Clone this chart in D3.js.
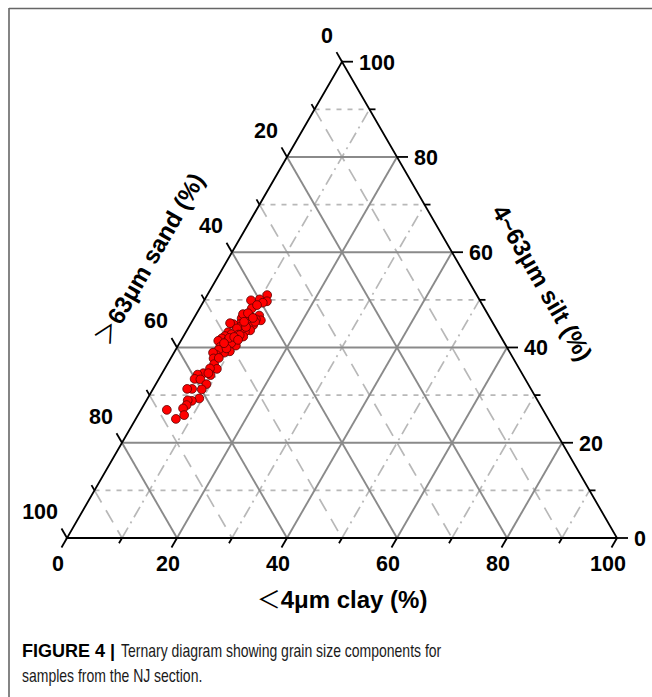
<!DOCTYPE html>
<html>
<head>
<meta charset="utf-8">
<script src="https://cdn.jsdelivr.net/npm/d3@7"></script>
<style>
  html, body { margin: 0; padding: 0; background: #fff; }
  svg { display: block; }
</style>
</head>
<body>
<svg id="chart" width="652" height="697"></svg>
<script>
// Grain size composition of NJ section samples (percent)
const sand = [38.1,39.9,38.8,41.6,39.7,42.3,41.7,41.9,42.7,43.3,44.4,45.2,44.5,44.8,46.1,46.5,47.3,47.8,43.8,44.9,
  46.0,47.1,46.8,49.1,48.7,47.5,50.1,50.9,51.8,49.9,48.9,47.3,50.7,49.1,51.6,52.1,49.7,50.8,52.0,52.7,
  53.6,54.0,51.1,54.5,55.0,55.0,56.2,56.8,57.9,57.0,59.1,60.1,59.1,58.5,59.9,61.6,62.5,61.3,62.9,63.6,
  64.3,65.3,68.4,65.8,67.7,43.5,43.1,49.5,48.5,45.3,48.1,45.1,51.0,53.5,41.0,43.1];
const silt = [51.0,50.1,49.7,49.9,49.4,48.2,46.7,45.7,45.9,46.4,46.5,46.1,47.0,45.0,44.9,44.3,44.9,45.1,44.7,43.6,
  43.3,44.0,42.3,43.2,42.8,42.7,42.4,41.9,41.4,41.6,41.6,42.6,40.5,40.4,40.2,40.1,40.9,39.2,38.9,39.5,
  38.4,38.9,39.8,37.7,36.5,35.5,35.6,34.2,34.6,34.6,34.3,33.4,33.3,32.3,31.2,31.3,31.3,29.3,28.8,28.9,
  27.9,27.2,26.9,25.8,25.0,47.2,45.4,42.0,42.2,44.3,41.6,45.4,40.9,37.8,48.9,46.2];
const clay = [10.9,10.0,11.5,8.5,10.9,9.5,11.6,12.4,11.4,10.3,9.1,8.7,8.5,10.2,9.0,9.2,7.8,7.1,11.5,11.5,
  10.7,8.9,10.9,7.7,8.5,9.8,7.5,7.2,6.8,8.5,9.5,10.1,8.8,10.5,8.2,7.8,9.4,10.0,9.1,7.8,
  8.0,7.1,9.1,7.8,8.5,9.5,8.2,9.0,7.5,8.4,6.6,6.5,7.6,9.2,8.9,7.1,6.2,9.4,8.3,7.5,
  7.8,7.5,4.7,8.4,7.3,9.3,11.5,8.5,9.3,10.4,10.3,9.5,8.1,8.7,10.1,10.7];

const majorTicks = [0, 20, 40, 60, 80, 100];
const minorTicks = [10, 30, 50, 70, 90];
const gridMajor = [20, 40, 60, 80];

const axisTitles = { clay: "4μm clay (%)", silt: "4~63μm silt (%)", sand: "63μm sand (%)" };
const figureLabel = "FIGURE 4 |";
const caption = ["Ternary diagram showing grain size components for", "samples from the NJ section."];

const svg = d3.select("#chart");
const x0 = 67, yBase = 538, side = 550;
const h = side * Math.sqrt(3) / 2;

// percent -> length along the base and height of the triangle
const along = d3.scaleLinear().domain([0, 100]).range([0, side]);
const up = d3.scaleLinear().domain([0, 100]).range([0, h]);

// ternary (clay, silt) -> screen point; sand is the remainder
const pt = (c, s) => [x0 + along(c) + along(s) / 2, yBase - up(s)];

// frame lines
svg.append("line").attr("x1", 9).attr("y1", 8.5).attr("x2", 652).attr("y2", 8.5)
  .attr("stroke", "#666").attr("stroke-width", 1.6);
svg.append("line").attr("x1", 9).attr("y1", 8).attr("x2", 9).attr("y2", 697)
  .attr("stroke", "#666").attr("stroke-width", 1.6);

const grid = svg.append("g").attr("fill", "none");
const seg = (a, b) => grid.append("line")
  .attr("x1", a[0]).attr("y1", a[1]).attr("x2", b[0]).attr("y2", b[1]);

// minor grid
minorTicks.forEach(v => {
  // constant silt: horizontal, short dashes
  seg(pt(0, v), pt(100 - v, v)).attr("stroke", "#b8b8b8").attr("stroke-width", 1.7)
    .attr("stroke-dasharray", "5,6");
  // constant clay: parallel to left edge, dash-dot
  seg(pt(v, 0), pt(v, 100 - v)).attr("stroke", "#b8b8b8").attr("stroke-width", 1.7)
    .attr("stroke-dasharray", "12,5,2,5");
  // constant sand: parallel to right edge, long dashes
  seg(pt(0, 100 - v), pt(100 - v, 0)).attr("stroke", "#b8b8b8").attr("stroke-width", 1.7)
    .attr("stroke-dasharray", "14,9");
});

// major grid
gridMajor.forEach(v => {
  seg(pt(0, v), pt(100 - v, v)).attr("stroke", "#8a8a8a").attr("stroke-width", 1.9);
  seg(pt(v, 0), pt(v, 100 - v)).attr("stroke", "#8a8a8a").attr("stroke-width", 1.9);
  seg(pt(0, 100 - v), pt(100 - v, 0)).attr("stroke", "#8a8a8a").attr("stroke-width", 1.9);
});

// triangle outline
const ax = svg.append("g").attr("stroke", "#000").attr("stroke-width", 1.8).attr("fill", "none");
ax.append("path").attr("d", d3.line()([pt(0, 0), pt(100, 0), pt(0, 100)]) + "Z")
  .attr("stroke-linejoin", "miter");

// ticks
const dirBottom = [-0.5, Math.sqrt(3) / 2];
const dirLeft = [-0.5, -Math.sqrt(3) / 2];
const tickSet = (vals, len) => vals.forEach(v => {
  // clay ticks on the base
  let p = pt(v, 0);
  ax.append("line").attr("x1", p[0]).attr("y1", p[1])
    .attr("x2", p[0] + dirBottom[0] * len).attr("y2", p[1] + dirBottom[1] * len);
  // silt ticks on the right edge
  p = pt(100 - v, v);
  ax.append("line").attr("x1", p[0]).attr("y1", p[1]).attr("x2", p[0] + len).attr("y2", p[1]);
  // sand ticks on the left edge
  p = pt(0, 100 - v);
  ax.append("line").attr("x1", p[0]).attr("y1", p[1])
    .attr("x2", p[0] + dirLeft[0] * len).attr("y2", p[1] + dirLeft[1] * len);
});
tickSet(majorTicks, 11);
tickSet(minorTicks, 6);

// tick labels
const lab = svg.append("g").attr("font-family", "'Liberation Sans', Arial, sans-serif")
  .attr("font-weight", "bold").attr("font-size", 21.5).attr("fill", "#000");
majorTicks.forEach(v => {
  let p = pt(v, 0);
  lab.append("text").attr("x", p[0] - 9).attr("y", p[1] + 33).attr("text-anchor", "middle").text(v);
  p = pt(100 - v, v);
  lab.append("text").attr("x", p[0] + 17).attr("y", p[1] + 8).attr("text-anchor", "start").text(v);
  p = pt(0, 100 - v);
  lab.append("text").attr("x", p[0] - 9).attr("y", p[1] - 19).attr("text-anchor", "end").text(v);
});

// axis titles
const ttl = svg.append("g").attr("font-family", "'Liberation Sans', Arial, sans-serif")
  .attr("font-weight", "bold").attr("font-size", 24).attr("fill", "#000");
const bt = ttl.append("text").attr("x", 342).attr("y", 608).attr("text-anchor", "middle");
bt.append("tspan").attr("font-weight", "normal").attr("font-family", "'Noto Sans CJK SC'").text("＜");
bt.append("tspan").text(axisTitles.clay);

const lt = ttl.append("text").attr("transform", "translate(157,263) rotate(-60)").attr("text-anchor", "middle");
lt.append("tspan").attr("font-weight", "normal").attr("font-family", "'Noto Sans CJK SC'").text("＞");
lt.append("tspan").text(axisTitles.sand);

ttl.append("text").attr("transform", "translate(535,287) rotate(60)").attr("text-anchor", "middle")
  .text(axisTitles.silt);

// samples
svg.append("g").selectAll("circle").data(sand.map((d, i) => ({ sand: d, silt: silt[i], clay: clay[i] })))
  .join("circle")
  .attr("cx", d => pt(d.clay, d.silt)[0])
  .attr("cy", d => pt(d.clay, d.silt)[1])
  .attr("r", 4.4)
  .attr("fill", "#ff0000")
  .attr("stroke", "#5a0000")
  .attr("stroke-width", 0.8);

// caption: bold figure label, then condensed body text
const capFont = "'Liberation Sans Narrow', 'Liberation Sans', Arial, sans-serif";
svg.append("text").attr("x", 22).attr("y", 657)
  .attr("font-family", capFont).attr("font-size", 18).attr("font-weight", "bold").attr("fill", "#000")
  .text(figureLabel);
svg.append("text").attr("transform", "translate(121,657) scale(0.8,1)")
  .attr("font-family", capFont).attr("font-size", 17.5).attr("fill", "#1a1a1a")
  .text(caption[0]);
svg.append("text").attr("transform", "translate(22,682) scale(0.8,1)")
  .attr("font-family", capFont).attr("font-size", 17.5).attr("fill", "#1a1a1a")
  .text(caption[1]);
</script>
</body>
</html>
